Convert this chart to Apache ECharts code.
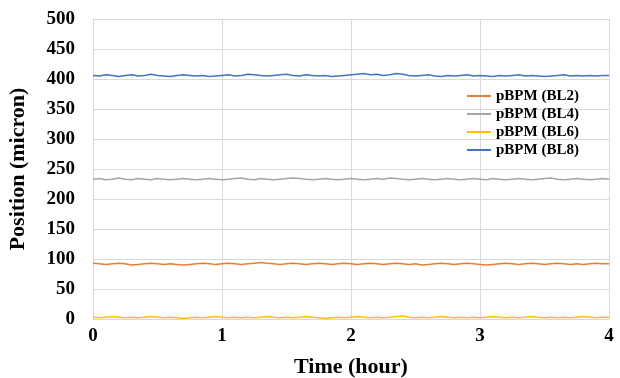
<!DOCTYPE html>
<html>
<head>
<meta charset="utf-8">
<script src="https://cdn.jsdelivr.net/npm/echarts@6/dist/echarts.min.js"></script>
<style>
  html, body { margin: 0; padding: 0; background: #fff; }
  #chart { width: 620px; height: 378px; }
</style>
</head>
<body>
<div id="chart"></div>
<script>
// time in hours
var times = [
  0, 0.05, 0.1, 0.15, 0.2, 0.25, 0.3, 0.35, 0.4, 0.45,
  0.5, 0.55, 0.6, 0.65, 0.7, 0.75, 0.8, 0.85, 0.9, 0.95,
  1, 1.05, 1.1, 1.15, 1.2, 1.25, 1.3, 1.35, 1.4, 1.45,
  1.5, 1.55, 1.6, 1.65, 1.7, 1.75, 1.8, 1.85, 1.9, 1.95,
  2, 2.05, 2.1, 2.15, 2.2, 2.25, 2.3, 2.35, 2.4, 2.45,
  2.5, 2.55, 2.6, 2.65, 2.7, 2.75, 2.8, 2.85, 2.9, 2.95,
  3, 3.05, 3.1, 3.15, 3.2, 3.25, 3.3, 3.35, 3.4, 3.45,
  3.5, 3.55, 3.6, 3.65, 3.7, 3.75, 3.8, 3.85, 3.9, 3.95, 4
];

var seriesNames = ["pBPM (BL2)", "pBPM (BL4)", "pBPM (BL6)", "pBPM (BL8)"];
var colors = ["#ED7D31", "#A5A5A5", "#FFC000", "#4472C4"];

var bl2 = [
  93, 92, 91, 92, 93, 92, 90, 91, 92, 93, 92, 91, 92, 91, 90, 91, 92, 93, 92, 91,
  92, 93, 92, 91, 92, 93, 94, 93, 92, 91, 92, 93, 92, 91, 92, 93, 92, 91, 92, 93,
  92, 91, 92, 93, 92, 91, 92, 93, 92, 91, 92, 90, 91, 92, 93, 92, 91, 92, 93, 92,
  91, 90, 91, 92, 93, 92, 91, 92, 93, 92, 91, 92, 93, 92, 91, 92, 91, 92, 93, 92, 92
];
var bl4 = [
  233, 234, 232, 233, 235, 233, 232, 234, 233, 232, 234, 233, 232, 233, 234, 233, 232, 233, 234, 233,
  232, 233, 234, 235, 233, 232, 234, 233, 232, 233, 234, 235, 234, 233, 232, 233, 234, 233, 232, 233,
  234, 233, 232, 233, 234, 233, 235, 234, 233, 232, 233, 234, 233, 232, 233, 234, 233, 232, 233, 234,
  233, 232, 234, 233, 232, 233, 234, 233, 232, 233, 234, 235, 233, 232, 233, 234, 233, 232, 233, 234, 233
];
var bl6 = [
  3, 2, 3, 4, 3, 2, 3, 2, 3, 4, 3, 2, 3, 2, 1, 2, 3, 2, 3, 4,
  3, 2, 3, 2, 3, 2, 3, 4, 3, 2, 3, 2, 3, 4, 3, 2, 1, 2, 3, 2,
  3, 4, 3, 2, 3, 2, 3, 4, 5, 3, 2, 3, 2, 3, 4, 3, 2, 3, 2, 3,
  2, 3, 4, 3, 2, 3, 2, 3, 4, 3, 2, 3, 2, 3, 2, 3, 4, 3, 2, 3, 3
];
var bl8 = [
  406, 405, 407, 406, 404, 406, 407, 405, 406, 408, 406, 405, 404, 406, 407, 406, 405, 406, 404, 405,
  406, 407, 405, 406, 408, 407, 406, 405, 406, 407, 408, 406, 405, 407, 406, 405, 406, 404, 405, 406,
  407, 408, 409, 407, 408, 406, 407, 409, 408, 406, 405, 406, 407, 405, 404, 406, 405, 406, 407, 405,
  406, 405, 404, 406, 405, 406, 407, 405, 406, 405, 404, 405, 406, 407, 405, 406, 405, 406, 405, 406, 406
];

var xTicks = [0, 1, 2, 3, 4];
var yTicks = [0, 50, 100, 150, 200, 250, 300, 350, 400, 450, 500];

function pairs(vals) {
  return vals.map(function (v, i) {
    return [times[i], v];
  });
}

var font = "Liberation Serif, Times New Roman, serif";
var chart = echarts.init(document.getElementById("chart"));

var option = {
  animation: false,
  color: colors,
  grid: {
    left: 93,
    right: 11,
    top: 19,
    bottom: 59,
    containLabel: false,
    outerBoundsMode: "none",
  },
  legend: {
    data: seriesNames,
    orient: "vertical",
    left: 462,
    top: 83,
    itemWidth: 24,
    itemHeight: 2,
    itemGap: 2,
    icon: "rect",
    textStyle: {
      fontFamily: font,
      fontWeight: "bold",
      fontSize: 15,
      lineHeight: 16,
      color: "#000",
    },
  },
  xAxis: {
    type: "value",
    min: xTicks[0],
    max: xTicks[xTicks.length - 1],
    interval: 1,
    name: "Time (hour)",
    nameLocation: "middle",
    nameGap: 37,
    nameTextStyle: {
      fontFamily: font,
      fontWeight: "bold",
      fontSize: 22,
      color: "#000",
    },
    axisLine: { lineStyle: { color: "#d9d9d9" } },
    axisTick: { show: false },
    splitLine: { show: true, lineStyle: { color: "#d9d9d9" } },
    axisLabel: {
      margin: 8,
      fontFamily: font,
      fontWeight: "bold",
      fontSize: 19,
      color: "#000",
    },
  },
  yAxis: {
    type: "value",
    min: yTicks[0],
    max: yTicks[yTicks.length - 1],
    interval: 50,
    name: "Position (micron)",
    nameLocation: "middle",
    nameGap: 64,
    nameTextStyle: {
      fontFamily: font,
      fontWeight: "bold",
      fontSize: 22,
      color: "#000",
    },
    axisLine: { show: true, lineStyle: { color: "#d9d9d9" } },
    axisTick: { show: false },
    splitLine: { lineStyle: { color: "#d9d9d9" } },
    axisLabel: {
      margin: 18,
      fontFamily: font,
      fontWeight: "bold",
      fontSize: 19,
      color: "#000",
    },
  },
  series: [bl2, bl4, bl6, bl8].map(function (vals, i) {
    return {
      name: seriesNames[i],
      type: "line",
      data: pairs(vals),
      showSymbol: false,
      lineStyle: { width: 1.5, color: colors[i] },
      itemStyle: { color: colors[i] },
    };
  }),
};

chart.setOption(option);
</script>
</body>
</html>
